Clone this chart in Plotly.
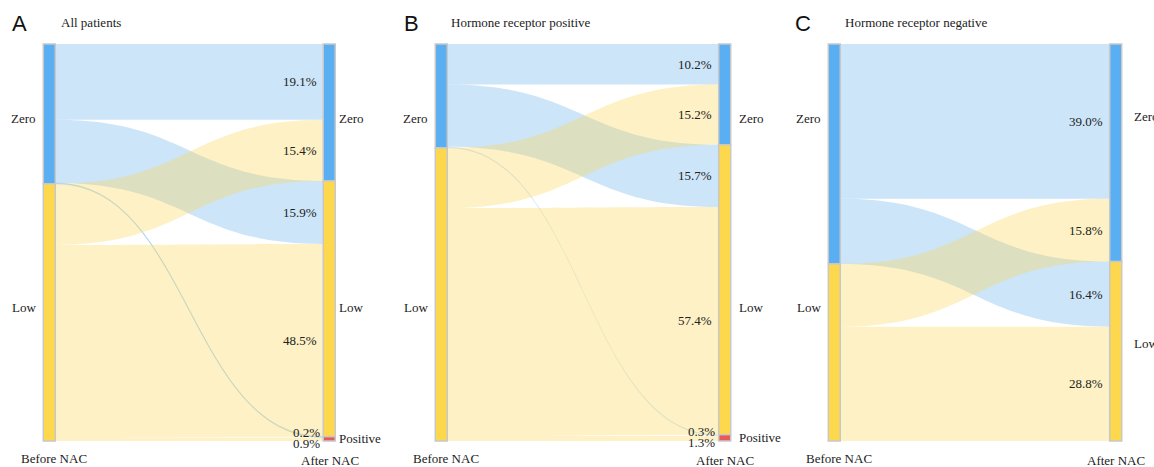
import plotly.graph_objects as go

# HER2 status before and after neoadjuvant chemotherapy (NAC), % of patients
before_states = ["Zero", "Low"]
after_states = ["Zero", "Low", "Positive"]

# rows: before state (Zero, Low); columns: after state (Zero, Low, Positive)
all_zero = [19.1, 15.9, 0.2]
all_low = [15.4, 48.5, 0.9]
hrp_zero = [10.2, 15.7, 0.3]
hrp_low = [15.2, 57.4, 1.3]
hrn_zero = [39.0, 16.4, 0.0]
hrn_low = [15.8, 28.8, 0.0]

panel_letters = ["A", "B", "C"]
panel_titles = ["All patients", "Hormone receptor positive", "Hormone receptor negative"]
stage_labels = ["Before NAC", "After NAC"]

panels = [
    [all_zero, all_low],
    [hrp_zero, hrp_low],
    [hrn_zero, hrn_low],
]

# ---- layout / style -------------------------------------------------------
W, H = 1154, 467
TOP, BOT = 44, 441                 # vertical extent of the node columns (px)
NODE_W = 12
LEFT_CX = [49, 441, 834]           # centre of the "before" column per panel (px)
RIGHT_CX = [329.5, 725, 1116]      # centre of the "after" column per panel (px)
TITLE_X = [59, 449, 843]
LETTER_X = [10, 402, 793]
RIGHT_GAP = [2, 6, 10]
# label rows for the state names (px); per-panel overrides for the after column
LABEL_ROW = {"Zero": 119, "Low": 307}
AFTER_ROW_OVERRIDE = {2: {"Zero": 116, "Low": 343}}

NODE_COLORS = {"Zero": "#5aaef2", "Low": "#fdd84c", "Positive": "#e8595c"}
LINK_COLORS = {"Zero": "rgba(130,190,240,0.40)", "Low": "rgba(250,215,90,0.35)"}
SERIF = "Liberation Serif, Times New Roman, serif"
SANS = "Liberation Sans, Arial, sans-serif"
TXT = "#222222"


def px(x):
    return x / W


def py(y):
    return 1 - y / H


fig = go.Figure()
annotations = []

for p, flows in enumerate(panels):
    # keep only after-states that actually receive patients
    after_idx = [j for j in range(len(after_states)) if sum(r[j] for r in flows) > 0]
    row_tot = [sum(r) for r in flows]
    col_tot = [sum(flows[i][j] for i in range(len(flows))) for j in after_idx]
    total = sum(row_tot)
    scale = (BOT - TOP) / total

    labels = [""] * (len(before_states) + len(after_idx))
    colors = [NODE_COLORS[s] for s in before_states] + [NODE_COLORS[after_states[j]] for j in after_idx]

    # node centre positions (normalised within the domain)
    xs, ys = [], []
    cum = 0
    for v in row_tot:
        xs.append(0.001)
        ys.append((cum + v / 2) / total)
        cum += v
    cum = 0
    for v in col_tot:
        xs.append(0.999)
        ys.append((cum + v / 2) / total)
        cum += v

    src, tgt, val, lcol = [], [], [], []
    for i, row in enumerate(flows):
        for k, j in enumerate(after_idx):
            if row[j] > 0:
                src.append(i)
                tgt.append(len(before_states) + k)
                val.append(row[j])
                lcol.append(LINK_COLORS[before_states[i]])

    fig.add_trace(go.Sankey(
        arrangement="fixed",
        domain=dict(x=[px(LEFT_CX[p]), px(RIGHT_CX[p])], y=[py(BOT), py(TOP)]),
        node=dict(label=labels, color=colors, x=xs, y=ys, pad=0,
                  thickness=NODE_W, line=dict(color="#c8c8c8", width=1.5)),
        link=dict(source=src, target=tgt, value=val, color=lcol),
        hoverinfo="none",
        textfont=dict(size=1, color="rgba(0,0,0,0)"),
    ))

    # percentage labels at the right end of each flow
    right_left_edge = RIGHT_CX[p] - NODE_W / 2
    cum = 0
    for k, j in enumerate(after_idx):
        node_top = cum
        node_val = col_tot[k]
        off = cum
        small = node_val < 3
        n_small = 0
        for i, row in enumerate(flows):
            v = row[j]
            if v <= 0:
                continue
            if small:
                centre = TOP + (node_top + node_val / 2) * scale
                yc = centre - 6 if n_small == 0 else centre + 5
                n_small += 1
                xr = right_left_edge - 2
            else:
                yc = TOP + (off + v / 2) * scale
                xr = right_left_edge - 5
            off += v
            annotations.append(dict(
                x=px(xr), y=py(yc), xref="paper", yref="paper",
                text=f"{v:.1f}%", showarrow=False, xanchor="right", yanchor="middle",
                font=dict(family=SERIF, size=13, color=TXT)))
        cum += node_val

    # state names
    for s in before_states:
        annotations.append(dict(
            x=px(LEFT_CX[p] - NODE_W / 2 - 5), y=py(LABEL_ROW[s]), xref="paper", yref="paper",
            text=s, showarrow=False, xanchor="right", yanchor="middle",
            font=dict(family=SERIF, size=13, color=TXT)))
    cum = 0
    rows = dict(LABEL_ROW)
    rows.update(AFTER_ROW_OVERRIDE.get(p, {}))
    for k, j in enumerate(after_idx):
        s = after_states[j]
        yl = rows.get(s, TOP + (cum + col_tot[k] / 2) * scale)
        cum += col_tot[k]
        annotations.append(dict(
            x=px(RIGHT_CX[p] + NODE_W / 2 + RIGHT_GAP[p]), y=py(yl), xref="paper", yref="paper",
            text=s, showarrow=False, xanchor="left", yanchor="middle",
            font=dict(family=SERIF, size=13, color=TXT)))

    # stage captions
    annotations.append(dict(
        x=px(LEFT_CX[p] + 5), y=py(458), xref="paper", yref="paper",
        text=stage_labels[0], showarrow=False, xanchor="center", yanchor="middle",
        font=dict(family=SERIF, size=13, color=TXT)))
    annotations.append(dict(
        x=px(RIGHT_CX[p]), y=py(460), xref="paper", yref="paper",
        text=stage_labels[1], showarrow=False, xanchor="center", yanchor="middle",
        font=dict(family=SERIF, size=13, color=TXT)))

    # panel letter and title
    annotations.append(dict(
        x=px(LETTER_X[p]), y=py(24), xref="paper", yref="paper",
        text=panel_letters[p], showarrow=False, xanchor="left", yanchor="middle",
        font=dict(family=SANS, size=22, color="#111111")))
    annotations.append(dict(
        x=px(TITLE_X[p]), y=py(22), xref="paper", yref="paper",
        text=panel_titles[p], showarrow=False, xanchor="left", yanchor="middle",
        font=dict(family=SERIF, size=13, color=TXT)))

fig.update_layout(
    width=W, height=H,
    margin=dict(l=0, r=0, t=0, b=0),
    paper_bgcolor="white",
    plot_bgcolor="white",
    annotations=annotations,
    showlegend=False,
)

fig.write_html("out.html")
